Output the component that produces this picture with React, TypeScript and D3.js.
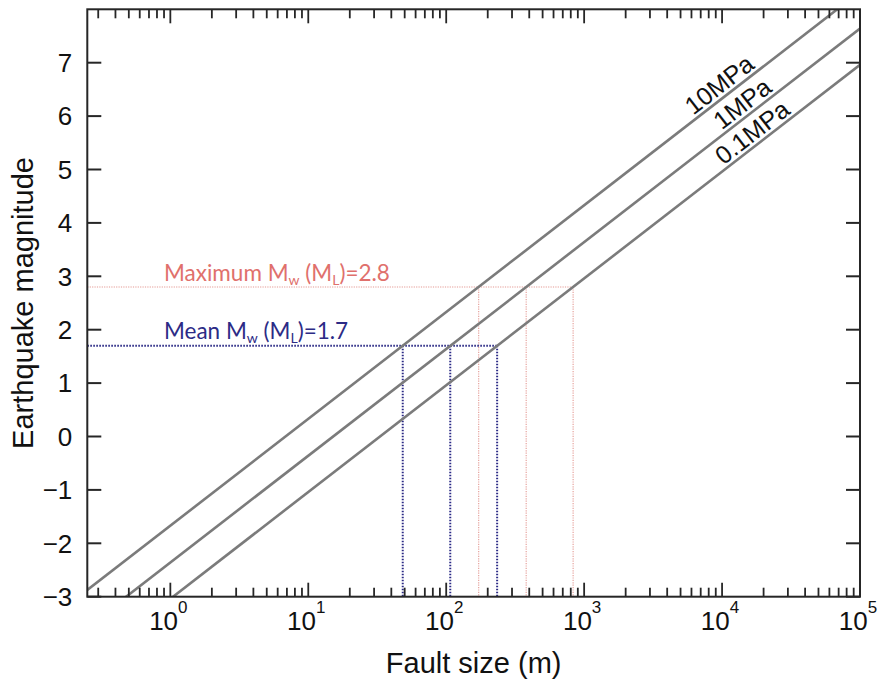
import React from 'react';
import * as d3 from 'd3';

// Axis domains and ticks
const faultSizeDomain = [0.25, 1e5];
const magnitudeDomain = [-3, 8];
const magnitudeTicks = [-3, -2, -1, 0, 1, 2, 3, 4, 5, 6, 7];
const decadeExponents = [0, 1, 2, 3, 4, 5];

// Constant stress-drop lines: magnitude at each end of the fault-size axis
const stressDropLabels = ['10MPa', '1MPa', '0.1MPa'];
const lineEndFaultSizes = [0.25, 1e5];
const lineEndMagnitudes = [
  [-2.874, 8.33],
  [-3.564, 7.64],
  [-4.244, 6.96],
];

// Observed magnitudes and the fault sizes they imply for each stress drop
const maxMagnitude = 2.8;
const maxFaultSizes = [172, 380, 832];
const meanMagnitude = 1.7;
const meanFaultSizes = [48.4, 107, 234];

const W = 883;
const H = 679;
const plot = { left: 87.3, right: 860, top: 9.3, bottom: 596.7 };
const labelAnchorX = [727, 750, 760];

const tickFont = '"Liberation Sans", Arial, Helvetica, sans-serif';
const noteFont = 'Lato, "Open Sans", sans-serif';

export default function App() {
  const x = d3.scaleLog().domain(faultSizeDomain).range([plot.left, plot.right]);
  const y = d3.scaleLinear().domain(magnitudeDomain).range([plot.bottom, plot.top]);

  const minorTicks: number[] = [];
  for (let e = -1; e <= 4; e++) {
    for (let m = 2; m <= 9; m++) {
      const v = m * Math.pow(10, e);
      if (v > faultSizeDomain[0] && v < faultSizeDomain[1]) minorTicks.push(v);
    }
  }
  const majorTicks = decadeExponents.map((e) => Math.pow(10, e));

  const line = d3
    .line<[number, number]>()
    .x((d) => x(d[0]))
    .y((d) => y(d[1]));

  const stressLines = lineEndMagnitudes.map((mags) =>
    lineEndFaultSizes.map((s, i) => [s, mags[i]] as [number, number])
  );

  const axisColor = '#262626';
  const red = '#e0706c';
  const redLine = '#e49a94';
  const blue = '#2c2b86';

  return (
    <svg
      width={W}
      height={H}
      viewBox={`0 0 ${W} ${H}`}
      style={{ position: 'absolute', left: 0, top: 0, background: '#fff' }}
    >
      <defs>
        <clipPath id="plot-area">
          <rect
            x={plot.left}
            y={plot.top}
            width={plot.right - plot.left}
            height={plot.bottom - plot.top}
          />
        </clipPath>
      </defs>

      {/* Maximum magnitude guides */}
      <g stroke={redLine} strokeWidth={1.1} strokeDasharray="1.2 1.2" fill="none">
        <line
          x1={plot.left}
          x2={x(maxFaultSizes[maxFaultSizes.length - 1])}
          y1={y(maxMagnitude)}
          y2={y(maxMagnitude)}
        />
        {maxFaultSizes.map((s, i) => (
          <line key={i} x1={x(s)} x2={x(s)} y1={y(maxMagnitude)} y2={plot.bottom} />
        ))}
      </g>

      {/* Mean magnitude guides */}
      <g stroke={blue} strokeWidth={2} strokeDasharray="1.6 1.4" fill="none">
        <line
          x1={plot.left}
          x2={x(meanFaultSizes[meanFaultSizes.length - 1])}
          y1={y(meanMagnitude)}
          y2={y(meanMagnitude)}
        />
        {meanFaultSizes.map((s, i) => (
          <line key={i} x1={x(s)} x2={x(s)} y1={y(meanMagnitude)} y2={plot.bottom} />
        ))}
      </g>

      {/* Stress-drop lines */}
      <g clipPath="url(#plot-area)">
        {stressLines.map((pts, i) => (
          <path key={i} d={line(pts) || ''} stroke="#7b7b7b" strokeWidth={2.6} fill="none" />
        ))}
      </g>

      {/* Stress-drop labels along the lines */}
      {stressLines.map((pts, i) => {
        const p0 = [x(pts[0][0]), y(pts[0][1])];
        const p1 = [x(pts[1][0]), y(pts[1][1])];
        const angle = (Math.atan2(p0[1] - p1[1], p1[0] - p0[0]) * 180) / Math.PI;
        const xc = labelAnchorX[i];
        const t = (xc - p0[0]) / (p1[0] - p0[0]);
        const yl = p0[1] + t * (p1[1] - p0[1]);
        return (
          <g key={i} transform={`translate(${xc},${yl}) rotate(${-angle})`}>
            <text
              x={0}
              y={-4}
              textAnchor="middle"
              fontFamily={tickFont}
              fontSize={25}
              fill="#111"
            >
              {stressDropLabels[i]}
            </text>
          </g>
        );
      })}

      {/* Annotations */}
      <text x={164} y={281} fontFamily={noteFont} fontSize={22.5} fill={red}>
        Maximum M
        <tspan fontSize={14} dy={4}>w</tspan>
        <tspan dy={-4}> (M</tspan>
        <tspan fontSize={14} dy={4}>L</tspan>
        <tspan dy={-4}>)={maxMagnitude}</tspan>
      </text>
      <text x={164} y={339} fontFamily={noteFont} fontSize={22.5} fill={blue}>
        Mean M
        <tspan fontSize={14} dy={4}>w</tspan>
        <tspan dy={-4}> (M</tspan>
        <tspan fontSize={14} dy={4}>L</tspan>
        <tspan dy={-4}>)={meanMagnitude}</tspan>
      </text>

      {/* Frame */}
      <rect
        x={plot.left}
        y={plot.top}
        width={plot.right - plot.left}
        height={plot.bottom - plot.top}
        fill="none"
        stroke={axisColor}
        strokeWidth={2}
      />

      {/* X ticks (bottom and top, inward) */}
      <g stroke={axisColor} strokeWidth={1.8}>
        {minorTicks.map((v, i) => (
          <g key={`m${i}`}>
            <line x1={x(v)} x2={x(v)} y1={plot.bottom} y2={plot.bottom - 9} />
            <line x1={x(v)} x2={x(v)} y1={plot.top} y2={plot.top + 9} />
          </g>
        ))}
        {majorTicks.map((v, i) => (
          <g key={`M${i}`}>
            <line x1={x(v)} x2={x(v)} y1={plot.bottom} y2={plot.bottom - 14} />
            <line x1={x(v)} x2={x(v)} y1={plot.top} y2={plot.top + 14} />
          </g>
        ))}
      </g>

      {/* Y ticks (left and right, inward) */}
      <g stroke={axisColor} strokeWidth={2}>
        {magnitudeTicks.map((v, i) => (
          <g key={i}>
            <line x1={plot.left} x2={plot.left + 14} y1={y(v)} y2={y(v)} />
            <line x1={plot.right} x2={plot.right - 14} y1={y(v)} y2={y(v)} />
          </g>
        ))}
      </g>

      {/* Y tick labels */}
      <g fontFamily={tickFont} fontSize={26} fill="#111" textAnchor="end">
        {magnitudeTicks.map((v, i) => (
          <text key={i} x={plot.left - 15} y={y(v)} dy="0.36em">
            {d3.format('d')(v)}
          </text>
        ))}
      </g>

      {/* X tick labels */}
      <g fontFamily={tickFont} fontSize={26} fill="#111" textAnchor="middle">
        {decadeExponents.map((e, i) => (
          <text key={i} x={x(Math.pow(10, e)) - 2} y={630}>
            10
            <tspan fontSize={17} dy={-17}>{e}</tspan>
          </text>
        ))}
      </g>

      {/* Axis titles */}
      <text
        x={(plot.left + plot.right) / 2}
        y={673}
        textAnchor="middle"
        fontFamily={tickFont}
        fontSize={29}
        fill="#111"
      >
        Fault size (m)
      </text>
      <text
        transform={`translate(33,${(plot.top + plot.bottom) / 2}) rotate(-90)`}
        textAnchor="middle"
        fontFamily={tickFont}
        fontSize={29}
        fill="#111"
      >
        Earthquake magnitude
      </text>
    </svg>
  );
}
